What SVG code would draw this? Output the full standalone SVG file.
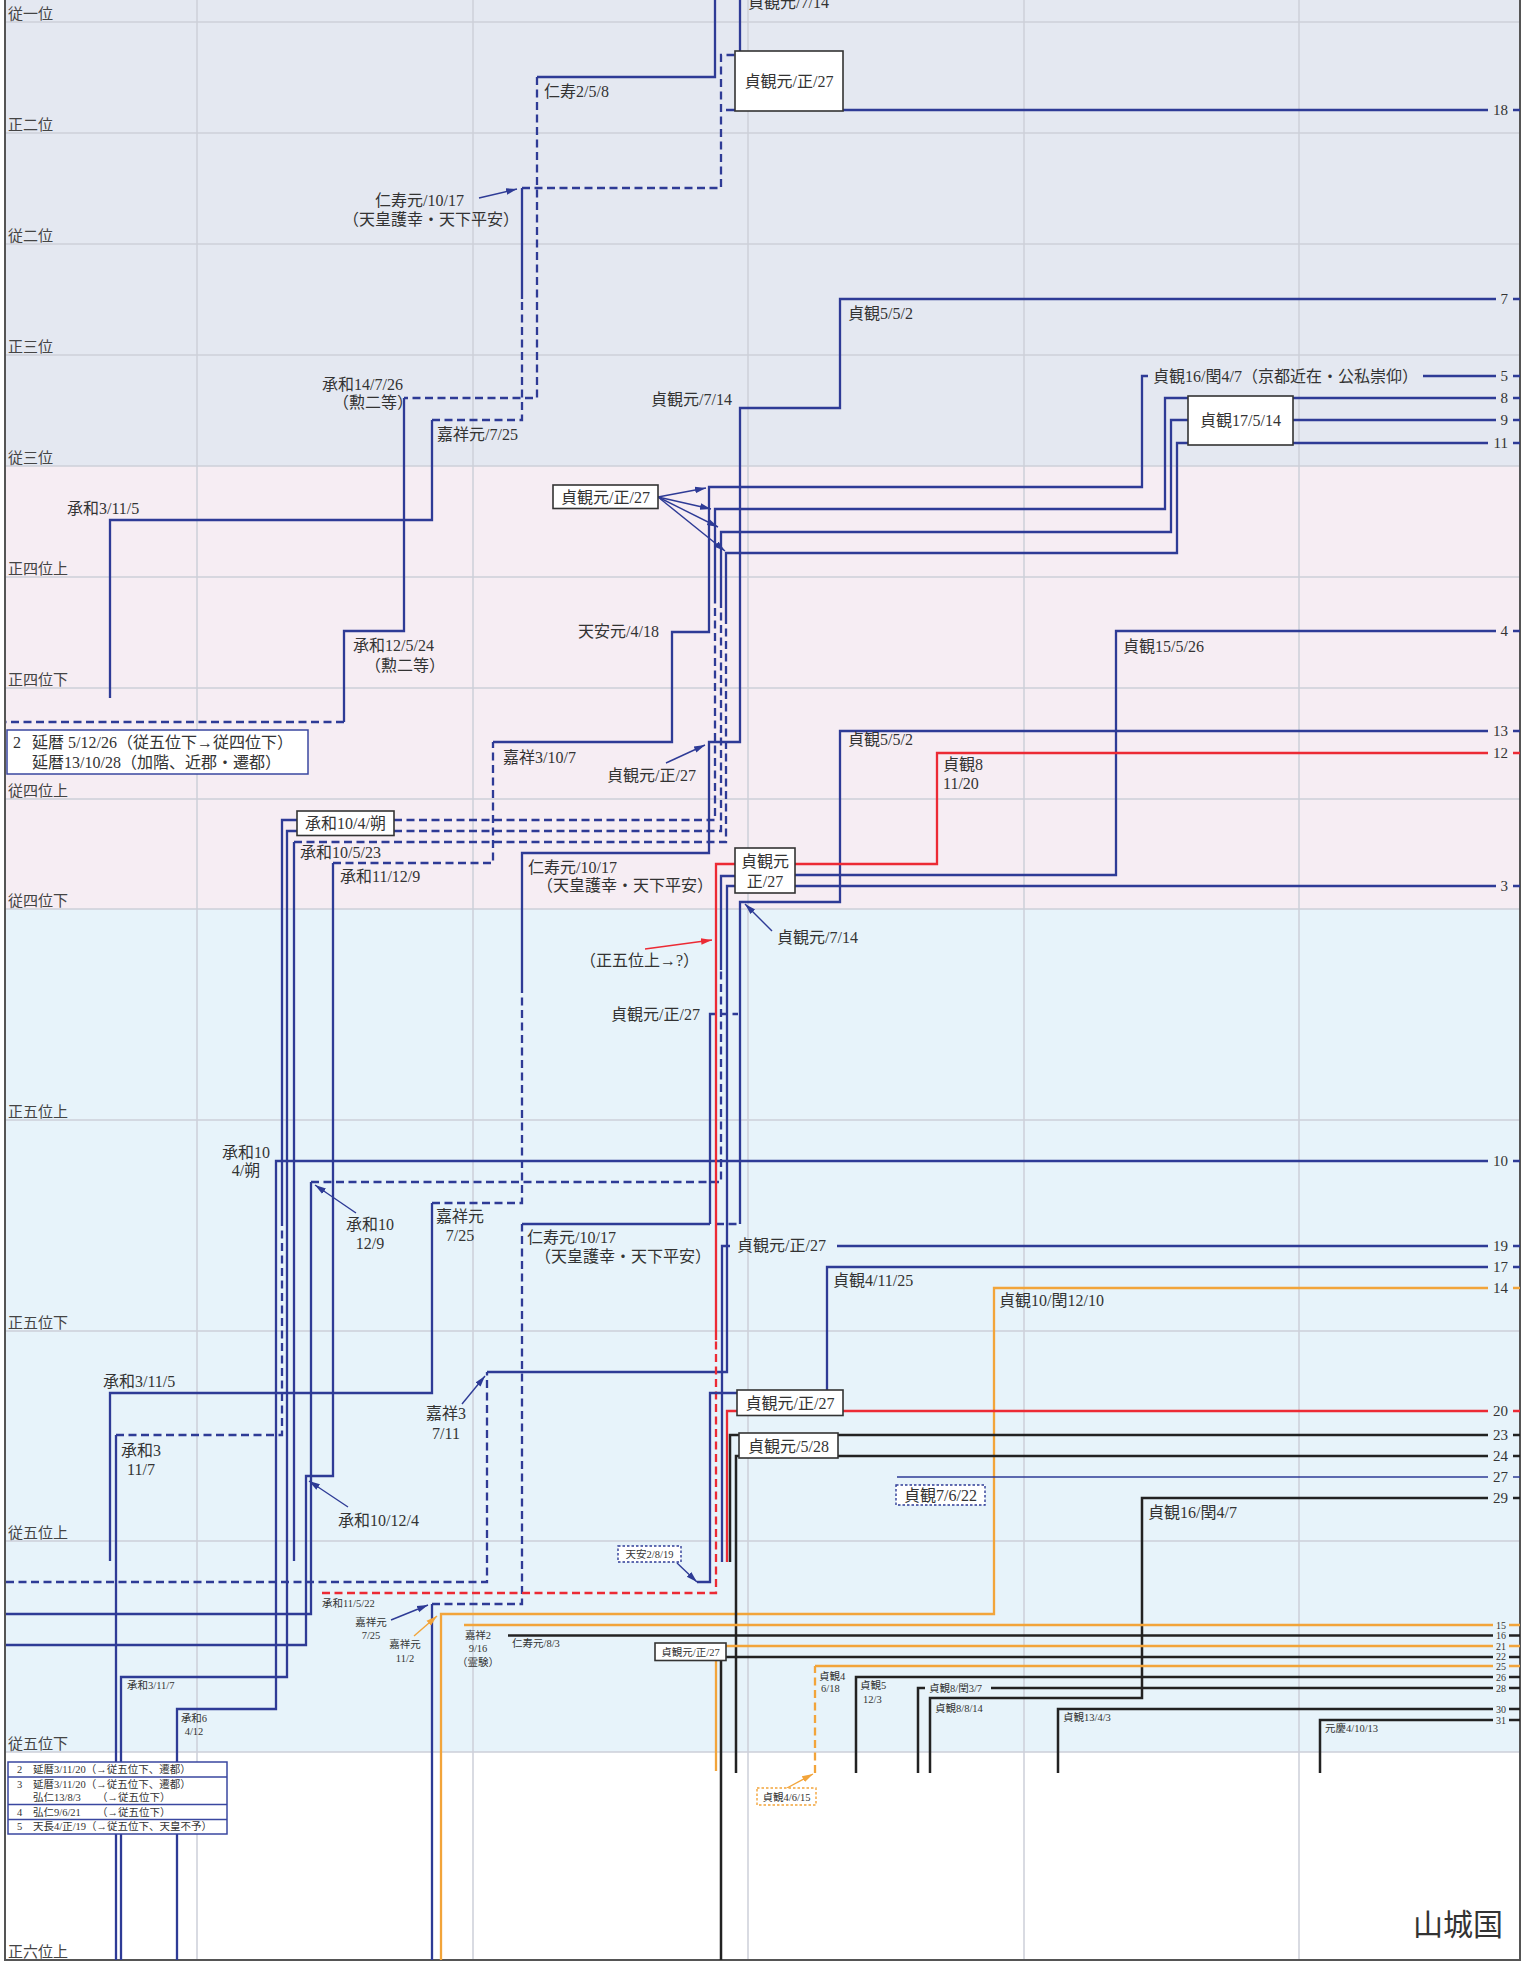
<svg xmlns="http://www.w3.org/2000/svg" width="1527" height="1966" viewBox="0 0 1527 1966">
<defs>
<style>
text{font-family:"Liberation Serif","Noto Sans CJK JP",serif;fill:#333}
.lb{font-size:16px}
.sm{font-size:10.5px}
.rk{font-size:15px;fill:#444}
.nm{font-size:15px;text-anchor:end}
.ns{font-size:10px;text-anchor:end}
.mid{text-anchor:middle}
.grid{stroke:#CDD0D9;stroke-width:1.5;fill:none}
.c{fill:none;stroke-width:2.3}
.b{stroke:#2E3B96}
.bt{stroke:#2E3B96;stroke-width:1.5}
.r{stroke:#EC2A34}
.o{stroke:#F2A43A}
.k{stroke:#222;stroke-width:2.5}
.d{stroke-dasharray:8 4.5}
.bx{fill:#fff;stroke:#333;stroke-width:1.6}
.nb{fill:#fff;stroke:#3A47A0;stroke-width:1.5}
.dot{stroke-dasharray:2.5 2;stroke-width:1.4}
.ar{fill:none;stroke-width:1.4}
</style>
<marker id="mb" viewBox="0 0 10 10" refX="10" refY="5" markerUnits="userSpaceOnUse" markerWidth="11" markerHeight="11" orient="auto"><path d="M0,2 L10,5 L0,8 z" fill="#2E3B96"/></marker>
<marker id="mr" viewBox="0 0 10 10" refX="10" refY="5" markerUnits="userSpaceOnUse" markerWidth="11" markerHeight="11" orient="auto"><path d="M0,2 L10,5 L0,8 z" fill="#EC2A34"/></marker>
<marker id="mo" viewBox="0 0 10 10" refX="10" refY="5" markerUnits="userSpaceOnUse" markerWidth="11" markerHeight="11" orient="auto"><path d="M0,2 L10,5 L0,8 z" fill="#F2A43A"/></marker>
</defs>

<g id="background">
<rect x="0" y="0" width="1527" height="1966" fill="#fff"/>
<rect x="5" y="0" width="1515" height="466" fill="#E4E8F1"/>
<rect x="5" y="466" width="1515" height="443" fill="#F6EDF3"/>
<rect x="5" y="909" width="1515" height="843" fill="#E7F3FA"/>
</g>

<g id="grid">
<path class="grid" d="M5,22H1520 M5,133H1520 M5,244H1520 M5,355H1520 M5,466H1520 M5,577H1520 M5,688H1520 M5,799H1520 M5,909H1520 M5,1120H1520 M5,1331H1520 M5,1541H1520 M5,1752H1520"/>
<path class="grid" d="M197,0V1960 M473,0V1960 M748,0V1960 M1024,0V1960 M1299,0V1960"/>
<path d="M5,0V1960H1520V0" fill="none" stroke="#555" stroke-width="2"/>
</g>

<g id="rank-labels">
<text class="rk" x="8" y="19">従一位</text>
<text class="rk" x="8" y="130">正二位</text>
<text class="rk" x="8" y="241">従二位</text>
<text class="rk" x="8" y="352">正三位</text>
<text class="rk" x="8" y="463">従三位</text>
<text class="rk" x="8" y="574">正四位上</text>
<text class="rk" x="8" y="685">正四位下</text>
<text class="rk" x="8" y="796">従四位上</text>
<text class="rk" x="8" y="906">従四位下</text>
<text class="rk" x="8" y="1117">正五位上</text>
<text class="rk" x="8" y="1328">正五位下</text>
<text class="rk" x="8" y="1538">従五位上</text>
<text class="rk" x="8" y="1749">従五位下</text>
<text class="rk" x="8" y="1957">正六位上</text>
</g>

<g id="connectors">
<path class="c b" d="M715,0V77H537"/>
<path class="c b d" d="M537,77V398H404"/>
<path class="c b" d="M404,398V631H344V722"/>
<path class="c b d" d="M344,722H6"/>
<path class="c b" d="M110,698V520H432V420"/>
<path class="c b d" d="M432,420H522V299"/>
<path class="c b" d="M522,299V188"/>
<path class="c b d" d="M522,188H721V55H735"/>
<path class="c b" d="M740,0V51"/>
<path class="c b" d="M726,110H735 M843,110H1488"/>
<path class="c b" d="M110,1561V1393H432V1203"/>
<path class="c b d" d="M432,1203H522V993"/>
<path class="c b" d="M522,993V853H709V742H740V408H840V299H1496"/>
<path class="c b" d="M6,1645H306V1476H333V863"/>
<path class="c b d" d="M333,863H493V742"/>
<path class="c b" d="M493,742H672V632H709V487H1142V376H1148 M1423,376H1496"/>
<path class="c b" d="M116,1960V1435"/>
<path class="c b d" d="M116,1435H282V1222"/>
<path class="c b" d="M282,1222V820H297"/>
<path class="c b d" d="M394,820H715V600"/>
<path class="c b" d="M715,600V509H1165V398H1188 M1293,398H1496"/>
<path class="c b" d="M121,1960V1677H287V831H297"/>
<path class="c b d" d="M394,831H721V600"/>
<path class="c b" d="M721,600V532H1171V420H1188 M1293,420H1496"/>
<path class="c b" d="M294,1561V842"/>
<path class="c b d" d="M294,842H726V620"/>
<path class="c b" d="M726,620V553H1177V443H1188 M1293,443H1488"/>
<path class="c b" d="M177,1960V1709H276V1161H1488"/>
<path class="c b" d="M6,1614H311V1182"/>
<path class="c b d" d="M311,1182H721V970"/>
<path class="c b" d="M721,970V876H735 M795,875H1116V631H1496"/>
<path class="c b d" d="M6,1582H487V1372"/>
<path class="c b" d="M487,1372H727V886H735 M795,886H1496"/>
<path class="c b" d="M432,1960V1604"/>
<path class="c b d" d="M432,1604H522V1224"/>
<path class="c b" d="M522,1224H710"/>
<path class="c b d" d="M716,1224H740"/>
<path class="c b" d="M740,1224V902H840V731H1488"/>
<path class="c b" d="M710,1224V1014H716"/>
<path class="c b d" d="M720,1014H738"/>
<path class="c r d" d="M322,1593H716V1340"/>
<path class="c r" d="M716,1340V864H735 M795,864H937V753H1488"/>
<path class="c b" d="M722,1562V1246H730 M837,1246H1488"/>
<path class="c b" d="M827,1390V1267H1488"/>
<path class="c o" d="M441,1960V1614H994V1288H1488"/>
<path class="c r" d="M727,1562V1411H737 M843,1411H1488"/>
<path class="c b" d="M697,1582H710V1393H737"/>
<path class="c k" d="M730,1562V1435H739 M838,1435H1488"/>
<path class="c k" d="M736,1773V1456H739 M838,1456H1488"/>
<path class="c bt" d="M897,1477H1488"/>
<path class="c k" d="M930,1773V1698H1142V1498H1488"/>
<path class="c k" d="M918,1773V1688H925 M991,1688H1493"/>
<path class="c k" d="M856,1773V1677H1493"/>
<path class="c o d" d="M815,1773V1666"/>
<path class="c o" d="M815,1666H1493"/>
<path class="c o" d="M716,1771V1660 M726,1646H1493"/>
<path class="c k" d="M721,1960V1660 M726,1657H1493"/>
<path class="c k" d="M508,1635.5H1493"/>
<path class="c o" d="M464,1625H1493"/>
<path class="c k" d="M1058,1773V1709H1493"/>
<path class="c k" d="M1320,1773V1720H1493"/>
<path class="c b" d="M1513,110H1520 M1513,299H1520 M1513,376H1520 M1513,398H1520 M1513,420H1520 M1513,443H1520 M1513,631H1520 M1513,731H1520 M1513,886H1520 M1513,1161H1520 M1513,1246H1520 M1513,1267H1520"/>
<path class="c bt" d="M1513,1477H1520"/>
<path class="c r" d="M1513,753H1520 M1513,1411H1520"/>
<path class="c o" d="M1513,1288H1520 M1509,1625H1520 M1509,1646H1520 M1509,1666H1520"/>
<path class="c k" d="M1513,1435H1520 M1513,1456H1520 M1513,1498H1520 M1509,1635.5H1520 M1509,1657H1520 M1509,1677H1520 M1509,1688H1520 M1509,1709H1520 M1509,1720H1520"/>
<path class="ar b" d="M479,198L517,189" marker-end="url(#mb)"/>
<path class="ar b" d="M658,497L706,488" marker-end="url(#mb)"/>
<path class="ar b" d="M658,497L711,509" marker-end="url(#mb)"/>
<path class="ar b" d="M658,497L718,527" marker-end="url(#mb)"/>
<path class="ar b" d="M658,497L725,551" marker-end="url(#mb)"/>
<path class="ar b" d="M666,763L705,745" marker-end="url(#mb)"/>
<path class="ar b" d="M772,931L745,904" marker-end="url(#mb)"/>
<path class="ar r" d="M645,949L712,940" marker-end="url(#mr)"/>
<path class="ar b" d="M356,1213L315,1185" marker-end="url(#mb)"/>
<path class="ar b" d="M462,1404L485,1376" marker-end="url(#mb)"/>
<path class="ar b" d="M348,1507L309,1481" marker-end="url(#mb)"/>
<path class="ar b" d="M391,1620L428,1605" marker-end="url(#mb)"/>
<path class="ar o" d="M414,1636L437,1616" marker-end="url(#mo)"/>
<path class="ar b" d="M677,1563L697,1582" marker-end="url(#mb)"/>
<path class="ar o" d="M787,1788L813,1774" marker-end="url(#mo)"/>
</g>

<g id="node-b0"><rect class="bx" x="553" y="485" width="105" height="23.5"/><text class="lb mid" x="605.5" y="502.5">貞観元/正/27</text></g>
<g id="node-b1"><rect class="bx" x="735" y="51" width="108" height="60"/><text class="lb mid" x="789" y="87">貞観元/正/27</text></g>
<g id="node-shouwa"><rect class="bx" x="297" y="811" width="97" height="24.5"/><text class="lb mid" x="345.5" y="829">承和10/4/朔</text></g>
<g id="node-b17"><rect class="bx" x="1188" y="396" width="105" height="49"/><text class="lb mid" x="1240.5" y="426">貞観17/5/14</text></g>
<g id="node-b2"><rect class="bx" x="735" y="848" width="60" height="45"/><text class="lb mid" x="765" y="867">貞観元</text><text class="lb mid" x="765" y="887">正/27</text></g>
<g id="node-b3"><rect class="bx" x="737" y="1390" width="106" height="25.5"/><text class="lb mid" x="790" y="1409">貞観元/正/27</text></g>
<g id="node-b4"><rect class="bx" x="739" y="1433" width="99" height="25"/><text class="lb mid" x="788.5" y="1451.5">貞観元/5/28</text></g>
<g id="node-b5"><rect class="bx" x="655" y="1643" width="71" height="17.5"/><text class="sm mid" x="690.5" y="1655.5">貞観元/正/27</text></g>
<g id="node-tenan"><rect x="618" y="1546" width="63" height="16" fill="#fff" stroke="#2E3B96" class="dot"/><text class="sm mid" x="649.5" y="1558">天安2/8/19</text></g>
<g id="node-j7"><rect x="896" y="1485" width="89" height="20" fill="#fff" stroke="#2E3B96" class="dot"/><text class="lb mid" x="940.5" y="1501">貞観7/6/22</text></g>
<g id="node-j4"><rect x="757" y="1788" width="59" height="17" fill="#fff" stroke="#F2A43A" class="dot"/><text class="sm mid" x="786.5" y="1800.5">貞観4/6/15</text></g>

<g id="node-note1"><rect class="nb" x="7" y="730" width="301" height="44"/>
<text class="lb" x="13" y="748">2</text><text class="lb" x="32" y="748">延暦 5/12/26（従五位下→従四位下）</text>
<text class="lb" x="32" y="768">延暦13/10/28（加階、近郡・遷都）</text></g>

<g id="node-note2"><rect class="nb" x="8" y="1762" width="219" height="72"/>
<path d="M8,1777H227 M8,1804.5H227 M8,1819.5H227" stroke="#3A47A0" stroke-width="1.3" fill="none"/>
<text class="sm" x="17" y="1773">2</text><text class="sm" x="33" y="1773">延暦3/11/20（→従五位下、遷都）</text>
<text class="sm" x="17" y="1788">3</text><text class="sm" x="33" y="1788">延暦3/11/20（→従五位下、遷都）</text>
<text class="sm" x="33" y="1801">弘仁13/8/3</text><text class="sm" x="97" y="1801">（→従五位下）</text>
<text class="sm" x="17" y="1815.5">4</text><text class="sm" x="33" y="1815.5">弘仁9/6/21</text><text class="sm" x="97" y="1815.5">（→従五位下）</text>
<text class="sm" x="17" y="1830">5</text><text class="sm" x="33" y="1830">天長4/正/19（→従五位下、天皇不予）</text></g>

<g id="labels">
<text class="lb" x="544" y="97">仁寿2/5/8</text>
<text class="lb" x="322" y="390">承和14/7/26</text>
<text class="lb" x="333" y="408">（勲二等）</text>
<text class="lb" x="353" y="651">承和12/5/24</text>
<text class="lb" x="365" y="671">（勲二等）</text>
<text class="lb" x="67" y="514">承和3/11/5</text>
<text class="lb" x="437" y="440">嘉祥元/7/25</text>
<text class="lb" x="375" y="206">仁寿元/10/17</text>
<text class="lb" x="343" y="225">（天皇護幸・天下平安）</text>
<text class="lb" x="748" y="8">貞観元/7/14</text>
<text class="lb" x="651" y="405">貞観元/7/14</text>
<text class="lb" x="848" y="319">貞観5/5/2</text>
<text class="lb" x="1153" y="382">貞観16/閏4/7（京都近在・公私崇仰）</text>
<text class="lb" x="578" y="637">天安元/4/18</text>
<text class="lb" x="503" y="763">嘉祥3/10/7</text>
<text class="lb" x="607" y="781">貞観元/正/27</text>
<text class="lb" x="300" y="858">承和10/5/23</text>
<text class="lb" x="340" y="882">承和11/12/9</text>
<text class="lb" x="528" y="873">仁寿元/10/17</text>
<text class="lb" x="537" y="891">（天皇護幸・天下平安）</text>
<text class="lb" x="848" y="745">貞観5/5/2</text>
<text class="lb" x="943" y="770">貞観8</text>
<text class="lb" x="943" y="789">11/20</text>
<text class="lb" x="1123" y="652">貞観15/5/26</text>
<text class="lb" x="777" y="943">貞観元/7/14</text>
<text class="lb" x="580" y="966">（正五位上→?）</text>
<text class="lb" x="611" y="1020">貞観元/正/27</text>
<text class="lb mid" x="246" y="1158">承和10</text>
<text class="lb mid" x="246" y="1176">4/朔</text>
<text class="lb mid" x="370" y="1230">承和10</text>
<text class="lb mid" x="370" y="1249">12/9</text>
<text class="lb mid" x="460" y="1222">嘉祥元</text>
<text class="lb mid" x="460" y="1241">7/25</text>
<text class="lb" x="527" y="1243">仁寿元/10/17</text>
<text class="lb" x="535" y="1262">（天皇護幸・天下平安）</text>
<text class="lb" x="737" y="1251">貞観元/正/27</text>
<text class="lb" x="833" y="1286">貞観4/11/25</text>
<text class="lb" x="999" y="1306">貞観10/閏12/10</text>
<text class="lb" x="103" y="1387">承和3/11/5</text>
<text class="lb mid" x="141" y="1456">承和3</text>
<text class="lb mid" x="141" y="1475">11/7</text>
<text class="lb mid" x="446" y="1419">嘉祥3</text>
<text class="lb mid" x="446" y="1439">7/11</text>
<text class="lb" x="338" y="1526">承和10/12/4</text>
<text class="lb" x="1148" y="1518">貞観16/閏4/7</text>
<text class="sm" x="322" y="1607">承和11/5/22</text>
<text class="sm mid" x="371" y="1626">嘉祥元</text>
<text class="sm mid" x="371" y="1639">7/25</text>
<text class="sm mid" x="405" y="1648">嘉祥元</text>
<text class="sm mid" x="405" y="1662">11/2</text>
<text class="sm mid" x="478" y="1639">嘉祥2</text>
<text class="sm mid" x="478" y="1652">9/16</text>
<text class="sm mid" x="478" y="1666">（霊験）</text>
<text class="sm" x="512" y="1647">仁寿元/8/3</text>
<text class="sm" x="127" y="1689">承和3/11/7</text>
<text class="sm mid" x="194" y="1722">承和6</text>
<text class="sm mid" x="194" y="1735">4/12</text>
<text class="sm" x="819" y="1680">貞観4</text>
<text class="sm" x="821" y="1692">6/18</text>
<text class="sm" x="860" y="1689">貞観5</text>
<text class="sm" x="863" y="1703">12/3</text>
<text class="sm" x="929" y="1692">貞観8/閏3/7</text>
<text class="sm" x="935" y="1712">貞観8/8/14</text>
<text class="sm" x="1063" y="1721">貞観13/4/3</text>
<text class="sm" x="1325" y="1732">元慶4/10/13</text>
<text x="1413" y="1935" style="font-size:30px">山城国</text>
</g>

<g id="end-numbers">
<text class="nm" x="1508" y="115">18</text>
<text class="nm" x="1508" y="304">7</text>
<text class="nm" x="1508" y="381">5</text>
<text class="nm" x="1508" y="403">8</text>
<text class="nm" x="1508" y="425">9</text>
<text class="nm" x="1508" y="448">11</text>
<text class="nm" x="1508" y="636">4</text>
<text class="nm" x="1508" y="736">13</text>
<text class="nm" x="1508" y="758">12</text>
<text class="nm" x="1508" y="891">3</text>
<text class="nm" x="1508" y="1166">10</text>
<text class="nm" x="1508" y="1251">19</text>
<text class="nm" x="1508" y="1272">17</text>
<text class="nm" x="1508" y="1293">14</text>
<text class="nm" x="1508" y="1416">20</text>
<text class="nm" x="1508" y="1440">23</text>
<text class="nm" x="1508" y="1461">24</text>
<text class="nm" x="1508" y="1482">27</text>
<text class="nm" x="1508" y="1503">29</text>
<text class="ns" x="1506" y="1628.5">15</text>
<text class="ns" x="1506" y="1639">16</text>
<text class="ns" x="1506" y="1649.5">21</text>
<text class="ns" x="1506" y="1660">22</text>
<text class="ns" x="1506" y="1669.5">25</text>
<text class="ns" x="1506" y="1680.5">26</text>
<text class="ns" x="1506" y="1691.5">28</text>
<text class="ns" x="1506" y="1712.5">30</text>
<text class="ns" x="1506" y="1723.5">31</text>
</g>
</svg>
